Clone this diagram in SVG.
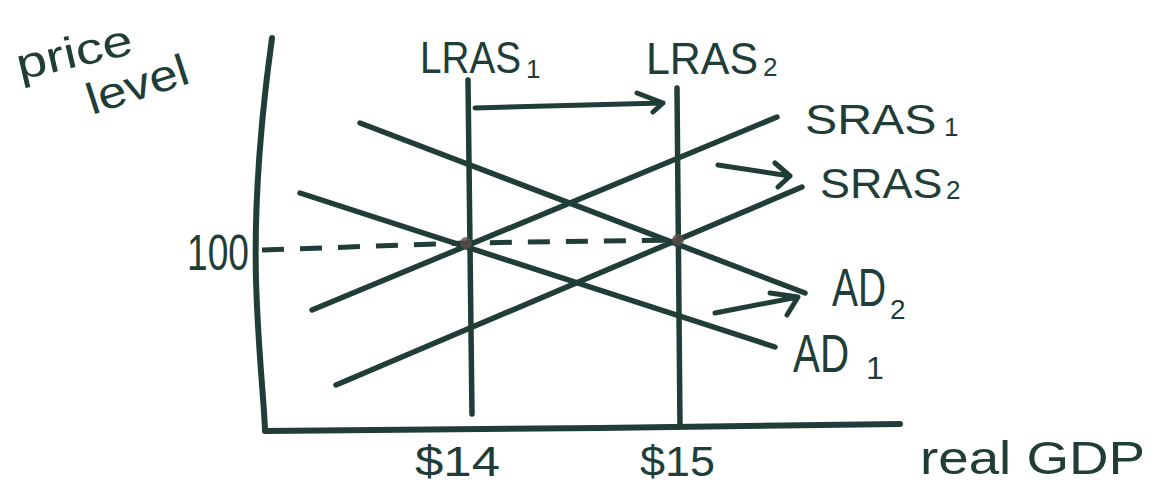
<svg xmlns="http://www.w3.org/2000/svg" width="1153" height="487" viewBox="0 0 1153 487">
<style>
.ln{stroke:#213d37;stroke-width:5.5;stroke-linecap:round;fill:none}
.ax{stroke:#213d37;stroke-width:6;stroke-linecap:round;fill:none}
.ar{stroke:#213d37;stroke-width:5;stroke-linecap:round;stroke-linejoin:round;fill:none}
.dash{stroke:#213d37;stroke-width:5;stroke-dasharray:22 16;fill:none}
.t{font-family:"Liberation Sans",Arial,sans-serif;fill:#213d37}
.dot{fill:#5a4f48;opacity:0.8}
</style>
<rect width="1153" height="487" fill="#ffffff"/>
<g id="axes">
<path class="ax" d="M272,38 C262,110 254,200 256,280 C258,350 264,400 265,430"/>
<path class="ax" d="M265,431 L600,428 L900,424"/>
</g>
<g id="connectors">
<path class="dash" d="M262,250 L465,243 L678,240"/>
<line id="lras1" class="ln" x1="468" y1="80" x2="472" y2="414"/>
<line id="lras2" class="ln" x1="677" y1="88" x2="680" y2="426"/>
<line id="sras1" class="ln" x1="312" y1="310" x2="777" y2="117"/>
<line id="sras2" class="ln" x1="336" y1="385" x2="802" y2="187"/>
<line id="ad1" class="ln" x1="300" y1="193" x2="775" y2="347"/>
<line id="ad2" class="ln" x1="360" y1="123" x2="805" y2="293"/>
<path class="ar" d="M475,108 L663,103 M637,93 L663,103 L653,112"/>
<path class="ar" d="M718,165 L790,176 M775,163 L790,176 L778,187"/>
<path class="ar" d="M715,313 L798,297 M770,293 L798,297 L787,315"/>
</g>
<g id="points">
<circle class="dot" cx="466" cy="243" r="6"/>
<circle class="dot" cx="678" cy="240" r="6"/>
</g>
<g id="label-price-level">
<text class="t" font-size="44" transform="translate(20,80) rotate(-13)" textLength="118" lengthAdjust="spacingAndGlyphs">price</text>
<text class="t" font-size="44" transform="translate(92,115) rotate(-18)" textLength="105" lengthAdjust="spacingAndGlyphs">level</text>
</g>
<g id="label-lras1">
<text class="t" font-size="44" transform="translate(420,73) scale(0.879,1)">LRAS</text>
<text class="t" font-size="26" x="526" y="78">1</text>
</g>
<g id="label-lras2">
<text class="t" font-size="44" transform="translate(646,74) scale(0.975,1)">LRAS</text>
<text class="t" font-size="26" x="763" y="76">2</text>
</g>
<g id="label-sras1">
<text class="t" font-size="42" transform="translate(805,134) scale(1.15,1)">SRAS</text>
<text class="t" font-size="26" x="944" y="136">1</text>
</g>
<g id="label-sras2">
<text class="t" font-size="42" transform="translate(820,198) scale(1.07,1)">SRAS</text>
<text class="t" font-size="26" x="946" y="199">2</text>
</g>
<g id="label-ad2">
<text class="t" font-size="54" transform="translate(832,306) scale(0.72,1)">AD</text>
<text class="t" font-size="28" x="890" y="319">2</text>
</g>
<g id="label-ad1">
<text class="t" font-size="54" transform="translate(793,372) scale(0.747,1)">AD</text>
<text class="t" font-size="32" x="866" y="379">1</text>
</g>
<g id="label-100">
<text class="t" font-size="50" x="187" y="270" textLength="62" lengthAdjust="spacingAndGlyphs">100</text>
</g>
<g id="label-14">
<text class="t" font-size="42" x="415" y="476" textLength="85" lengthAdjust="spacingAndGlyphs">$14</text>
</g>
<g id="label-15">
<text class="t" font-size="42" x="640" y="476" textLength="75" lengthAdjust="spacingAndGlyphs">$15</text>
</g>
<g id="label-real-gdp">
<text class="t" font-size="46" x="920" y="474" textLength="225" lengthAdjust="spacingAndGlyphs">real GDP</text>
</g>
</svg>
